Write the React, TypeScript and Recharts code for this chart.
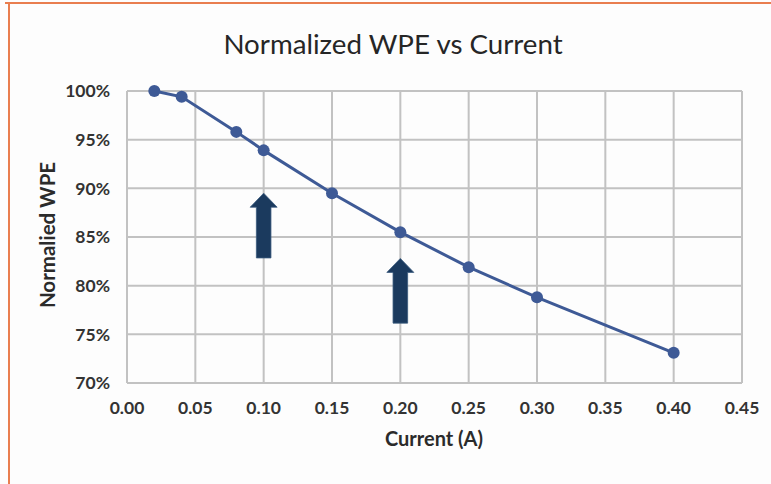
import React from "react";
import {
  LineChart,
  Line,
  XAxis,
  YAxis,
  CartesianGrid,
  ReferenceArea,
} from "recharts";

const currents = [0.02, 0.04, 0.08, 0.1, 0.15, 0.2, 0.25, 0.3, 0.4];
const wpeValues = [100, 99.4, 95.8, 93.9, 89.5, 85.5, 81.9, 78.8, 73.1];
const xTicks = [0, 0.05, 0.1, 0.15, 0.2, 0.25, 0.3, 0.35, 0.4, 0.45];
const yTicks = [70, 75, 80, 85, 90, 95, 100];
const arrowX = [0.1, 0.2];
const arrowTop = [89.5, 82.8];
const arrowBottom = [82.85, 76.15];

const data = currents.map((c, i) => ({ current: c, wpe: wpeValues[i] }));

const FONT = "Lato, 'Open Sans', sans-serif";
const LINE_COLOR = "#3e5a96";
const ARROW_COLOR = "#1b3a5e";
const TEXT_COLOR = "#2b2b2b";

const ArrowShape = (props: any) => {
  const { x, y, width, height } = props;
  const cx = x + width / 2;
  const shaftHalf = 7.3;
  const headHalf = 13.5;
  const headH = 14;
  const top = y;
  const bottom = y + height;
  const d = `M ${cx} ${top} L ${cx + headHalf} ${top + headH} L ${cx + shaftHalf} ${top + headH} L ${cx + shaftHalf} ${bottom} L ${cx - shaftHalf} ${bottom} L ${cx - shaftHalf} ${top + headH} L ${cx - headHalf} ${top + headH} Z`;
  return <path d={d} fill={ARROW_COLOR} stroke="#3a5a7e" strokeWidth={0.8} />;
};

const YLabel = () => (
  <text
    x={47}
    y={235}
    transform={`rotate(-90, 47, 235)`}
    textAnchor="middle"
    dominantBaseline="central"
    fontFamily={FONT}
    fontWeight={700}
    fontSize={20.5}
    fill={TEXT_COLOR}
  >
    Normalied WPE
  </text>
);

const XLabel = () => (
  <text
    x={434}
    y={446}
    textAnchor="middle"
    fontFamily={FONT}
    fontWeight={700}
    fontSize={20}
    fill={TEXT_COLOR}
  >
    Current (A)
  </text>
);

export default function App() {
  return (
    <div
      style={{
        position: "absolute",
        left: 0,
        top: 0,
        width: 771,
        height: 484,
        background: "#fdfdfd",
        overflow: "hidden",
      }}
    >
      <div
        style={{
          position: "absolute",
          left: 5,
          top: 2,
          width: 766,
          height: 2,
          background: "#e97e4f",
        }}
      />
      <div
        style={{
          position: "absolute",
          left: 8,
          top: 2,
          width: 2,
          height: 482,
          background: "#e97e4f",
        }}
      />
      <div
        style={{
          position: "absolute",
          left: 0,
          top: 26,
          width: 786,
          textAlign: "center",
          fontFamily: FONT,
          fontSize: 27.7,
          color: "#262626",
          lineHeight: "36px",
        }}
      >
        Normalized WPE vs Current
      </div>
      <div style={{ position: "absolute", left: 0, top: 0 }}>
        <LineChart
          width={771}
          height={484}
          data={data}
          margin={{ top: 91, right: 29, bottom: 61, left: 47 }}
        >
          <CartesianGrid stroke="#c2c2c2" strokeWidth={2} />
          <XAxis
            dataKey="current"
            type="number"
            domain={[0, 0.45]}
            ticks={xTicks}
            tickFormatter={(v: number) => v.toFixed(2)}
            axisLine={false}
            tickLine={false}
            tickSize={0}
            tickMargin={19}
            height={40}
            interval={0}
            tick={{ fontFamily: FONT, fontWeight: 700, fontSize: 17.5, fill: "#333" }}
            label={<XLabel />}
          />
          <YAxis
            type="number"
            domain={[70, 100]}
            ticks={yTicks}
            tickFormatter={(v: number) => `${v}%`}
            axisLine={false}
            tickLine={false}
            tickSize={0}
            tickMargin={17}
            width={80}
            interval={0}
            tick={{ fontFamily: FONT, fontWeight: 700, fontSize: 17.5, fill: "#333" }}
            label={<YLabel />}
          />
          {arrowX.map((ax, i) => (
            <ReferenceArea
              key={i}
              x1={ax - 0.005}
              x2={ax + 0.005}
              y1={arrowBottom[i]}
              y2={arrowTop[i]}
              shape={(p: any) => <ArrowShape {...p} />}
            />
          ))}
          <Line
            type="linear"
            dataKey="wpe"
            stroke={LINE_COLOR}
            strokeWidth={3}
            dot={{ r: 6, fill: LINE_COLOR, stroke: LINE_COLOR, strokeWidth: 0 }}
            activeDot={false}
            isAnimationActive={false}
          />
        </LineChart>
      </div>
    </div>
  );
}
